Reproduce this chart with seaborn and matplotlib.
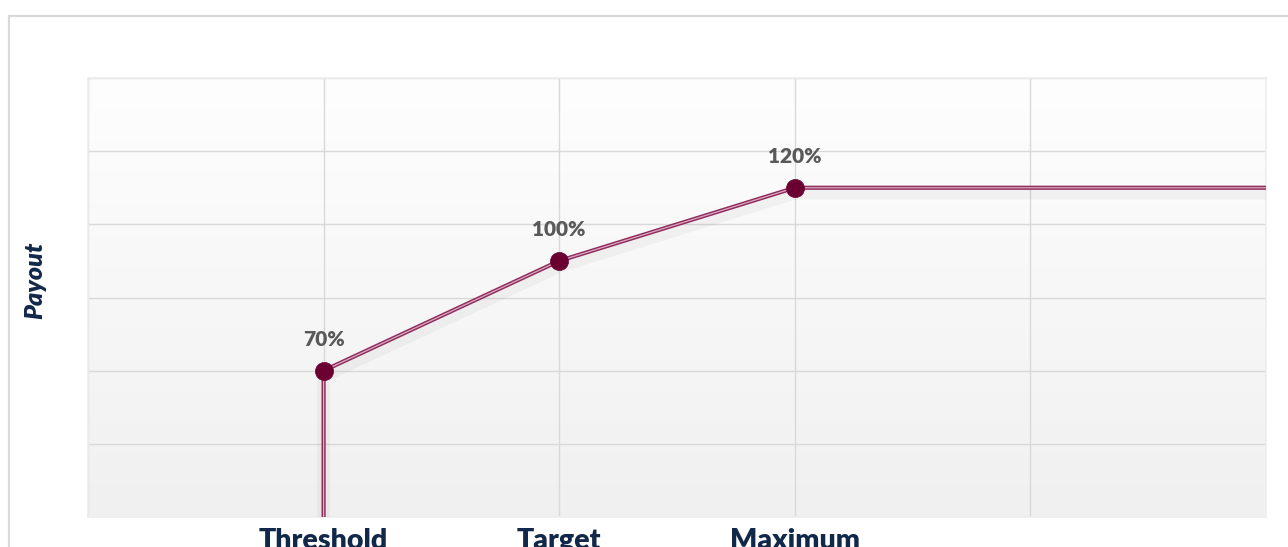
import numpy as np
import pandas as pd
import matplotlib
matplotlib.use("Agg")
import matplotlib.pyplot as plt
import matplotlib.patheffects as pe
from matplotlib.colors import LinearSegmentedColormap
from matplotlib.patches import Rectangle
import seaborn as sns

# ---- data ----
levels = ["Threshold", "Target", "Maximum"]
level_pos = [1, 2, 3]
payout = [50, 87.5, 112.5]
point_labels = ["70%", "100%", "120%"]
# full curve: drop from threshold to axis, then flat after maximum
curve_x = [1, 1, 2, 3, 5]
curve_y = [0, 50, 87.5, 112.5, 112.5]
x_grid = [0, 1, 2, 3, 4, 5]
x_tick_labels = ["", "Threshold", "Target", "Maximum", "", ""]
y_grid = [0, 25, 50, 75, 100, 125, 150]

sns.set_theme(style="white")
plt.rcParams["font.family"] = ["Lato", "DejaVu Sans"]

W, H = 1288, 547
fig = plt.figure(figsize=(W / 100, H / 100), dpi=100)
fig.patch.set_facecolor("white")
ax = fig.add_axes([88 / W, 1 - 517 / H, (1266 - 88) / W, (517 - 78) / H])

# outer frame
fig.patches.append(Rectangle((9 / W, -0.1), 1.2, 1 - 16 / H + 0.1,
                             transform=fig.transFigure, fill=False,
                             edgecolor="#d9d9d9", linewidth=1.6, zorder=0))

# gradient background (light at top, slightly darker at bottom)
grad = np.linspace(0, 1, 256).reshape(-1, 1)
cmap = LinearSegmentedColormap.from_list("bg", ["#f0f0f0", "#fefefe"])
ax.imshow(grad, extent=[0, 5, 0, 150], aspect="auto", cmap=cmap, zorder=0,
          origin="lower")
ax.set_xlim(0, 5)
ax.set_ylim(0, 150)

ax.set_xticks(x_grid)
ax.set_xticklabels(x_tick_labels)
ax.set_yticks(y_grid)
ax.set_yticklabels([])
ax.grid(True, color="#d9d9d9", linewidth=1.0, zorder=1)
ax.set_axisbelow(True)
for s in ax.spines.values():
    s.set_color("#eeeeee")
    s.set_linewidth(1.2)
ax.tick_params(axis="both", length=0)
ax.tick_params(axis="x", pad=8, labelsize=20.5, labelcolor="#12284a")
for t in ax.get_xticklabels():
    t.set_fontweight("heavy")

df = pd.DataFrame({"x": curve_x, "y": curve_y})
sns.lineplot(data=df, x="x", y="y", sort=False, estimator=None, ax=ax,
             color="#8f2d5c", linewidth=3.0, zorder=3,
             path_effects=[pe.SimpleLineShadow(offset=(0, -4), shadow_color="#000000", alpha=0.035, linewidth=9),
                           pe.Normal()])
sns.lineplot(data=df, x="x", y="y", sort=False, estimator=None, ax=ax,
             color="#dba9c0", linewidth=0.9, zorder=4)

pts = pd.DataFrame({"x": level_pos, "y": payout})
sns.scatterplot(data=pts, x="x", y="y", ax=ax, s=170, color="#6a0032",
                edgecolor="#6a0032", linewidth=0.5, zorder=5)

for xp, yp, lab in zip(level_pos, payout, point_labels):
    ax.annotate(lab, (xp, yp), xytext=(0, 31), textcoords="offset pixels",
                ha="center", va="center", fontsize=15, fontweight="heavy",
                color="#595959", zorder=6)

ax.set_xlabel("")
ax.set_ylabel("Payout", fontsize=18, fontweight="heavy", style="italic",
              color="#12284a")
ax.yaxis.set_label_coords(-0.035, 0.54)

fig.savefig("out.png", dpi=100)
